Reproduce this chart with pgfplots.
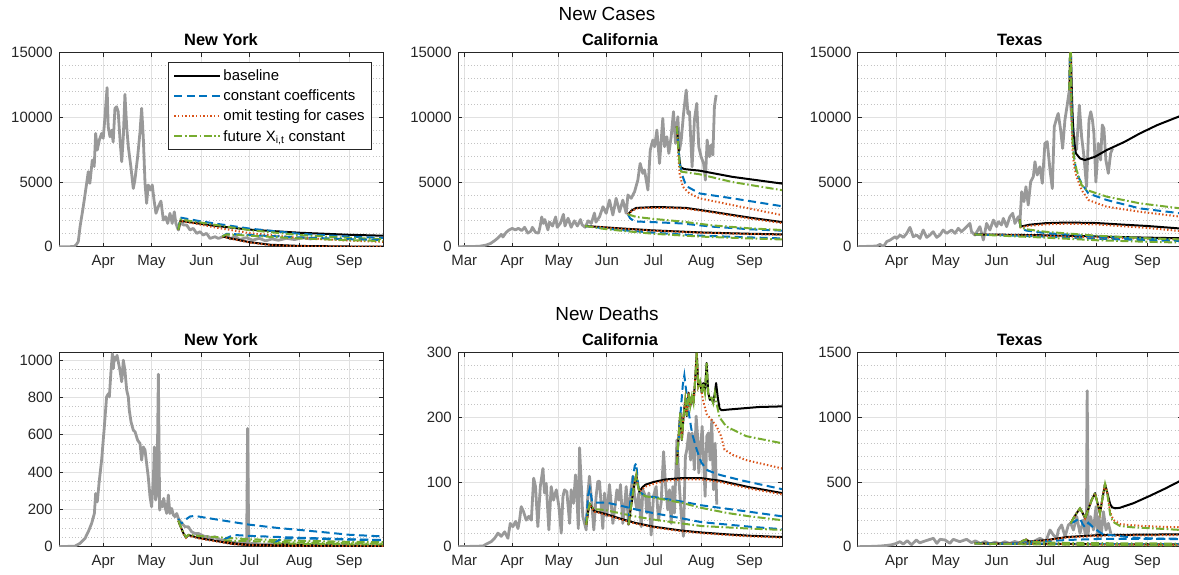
\documentclass[border=0pt]{standalone}
\usepackage{pgfplots}
\pgfplotsset{compat=1.18}
\usepackage{fontspec}
\setmainfont{Liberation Sans}
\definecolor{obsgray}{RGB}{153,153,153}
\definecolor{mblue}{RGB}{0,114,189}
\definecolor{morange}{RGB}{217,83,25}
\definecolor{mgreen}{RGB}{119,172,48}
\definecolor{axc}{RGB}{38,38,38}
\definecolor{gridc}{RGB}{225,225,225}
\definecolor{mgridc}{RGB}{195,195,195}
\pgfplotsset{
  legend image code/.code={\draw[#1] (0bp,0bp) -- (46bp,0bp);},
  panel/.style={scale only axis, width=324bp, height=194bp, anchor=south west,
    axis line style={color=axc, line width=0.7bp},
    tick style={color=axc, line width=0.7bp}, tick align=inside,
    major tick length=4bp, minor tick length=0bp,
    grid=both, major grid style={color=gridc, line width=0.8bp},
    minor grid style={color=mgridc, line width=0.7bp, dash pattern=on 0.8bp off 2.4bp},
    tick label style={font=\fontsize{15}{18}\selectfont, color=axc},
    yticklabel style={inner xsep=0pt, xshift=-6bp},
    xticklabel style={inner ysep=0pt, yshift=-8bp},
    title style={font=\bfseries\fontsize{16.5}{20}\selectfont, at={(0.5,1)}, anchor=base, yshift=1.6bp},
    scaled y ticks=false, /pgf/number format/1000 sep={}, /pgf/number format/assume math mode=true,
    xmax=205, ymin=0, clip=true, enlargelimits=false,
  },
  mon/.style={xtick={31,61,92,122,153,184}, xticklabels={Apr,May,Jun,Jul,Aug,Sep}},
  monm/.style={xtick={0,31,61,92,122,153,184}, xticklabels={Mar,Apr,May,Jun,Jul,Aug,Sep}},
  cases/.style={ymax=15000, ytick={0,5000,10000,15000}, minor y tick num=4},
  obs/.style={color=obsgray, line width=2.8bp, line join=round, forget plot},
  bl/.style={color=black, line width=2bp, line join=round},
  cc/.style={color=mblue, line width=2bp, dash pattern=on 8bp off 4.5bp},
  om/.style={color=morange, line width=2bp, dash pattern=on 1.4bp off 2.2bp},
  fx/.style={color=mgreen, line width=2bp, dash pattern=on 8bp off 2.5bp on 1.6bp off 2.5bp},
  blf/.style={bl, forget plot}, ccf/.style={cc, forget plot}, omf/.style={om, forget plot}, fxf/.style={fx, forget plot},
}
\begin{document}
\begin{tikzpicture}
\useasboundingbox (0bp,0bp) rectangle (1179bp,575bp);
\node[anchor=base, font=\fontsize{19}{22}\selectfont] at (607bp,554.3bp) {New Cases};
\node[anchor=base, font=\fontsize{19}{22}\selectfont] at (607bp,254.3bp) {New Deaths};

% ---------------- NY cases
\begin{axis}[panel, mon, cases, at={(59bp,328.3bp)}, xmin=3.5, title={New York},
  legend style={at={(0.966,0.952)}, anchor=north east, draw=axc, line width=0.7bp, fill=white,
    font=\fontsize{15}{17}\selectfont, inner xsep=5bp, inner ysep=5bp, row sep=4bp, cells={anchor=west}}]
\addplot[obs] coordinates {(3.5,0)(10,0)(13,20)(14.5,200)(15.5,400)(16.6,1550)(18.6,3100)(20.7,4900)(21.7,5800)(22.7,4900)(24.2,6700)(25.4,6200)(26.3,8760)(27.3,7470)(28.6,8250)(30,8760)(31,8380)(32.1,10050)(33.4,12300)(34.1,9280)(35.2,8500)(36.2,9000)(37.2,8100)(38.3,10700)(39.3,10820)(40.3,10440)(41.6,8000)(42.5,6570)(43.5,8500)(44.5,11780)(45.6,9280)(46.6,7730)(48.2,6180)(49.7,4500)(50.7,5150)(52.4,6950)(53.8,8760)(54.9,10700)(55.9,8500)(57,4900)(58,3350)(59,4770)(60.5,4380)(61.5,4770)(62.6,3600)(63.8,2580)(65.3,3100)(66.9,3530)(68.4,2060)(69.8,2320)(71.1,1800)(72.5,2580)(73.9,1800)(75.2,2700)(76.2,1800)(77.7,1290)(79.4,2060)(80.8,1675)(82.9,1675)(85,1290)(87,1420)(89.1,1030)(91.2,1160)(93.2,900)(95.3,1030)(97.4,640)(100.5,770)(102.6,640)(105,750)(108,900)(110,600)(113,800)(116,550)(120,700)(124,500)(128,650)(132,450)(136,600)(140,500)(145,650)(150,550)(155,700)(160,600)(162,650)};
\addplot[bl] coordinates {(77.7,1300)(79,2000)(90,1800)(100,1620)(122,1320)(153,1080)(184,920)(205,850)};
\addlegendentry{baseline}
\addplot[cc] coordinates {(77.7,1300)(79,2250)(90,2000)(100,1800)(122,1400)(153,1000)(184,780)(205,680)};
\addlegendentry{constant coefficents}
\addplot[om] coordinates {(77.7,1300)(79,2000)(90,1750)(100,1500)(122,1050)(153,680)(184,470)(205,380)};
\addlegendentry{omit testing for cases}
\addplot[fx] coordinates {(77.7,1300)(79,2100)(90,1900)(100,1700)(122,1280)(153,900)(184,680)(205,580)};
\addlegendentry{future X\textsubscript{i,t} constant}
\addplot[blf] coordinates {(105,800)(110,650)(122,350)(135,150)(153,60)(184,15)(205,8)};
\addplot[ccf] coordinates {(105,800)(108,1000)(122,900)(153,720)(184,580)(205,520)};
\addplot[omf] coordinates {(105,800)(110,630)(122,320)(135,120)(153,40)(184,10)(205,5)};
\addplot[fxf] coordinates {(105,800)(108,950)(122,850)(153,640)(184,500)(205,440)};
\end{axis}

% ---------------- CA cases
\begin{axis}[panel, monm, cases, at={(458bp,328.3bp)}, xmin=-4, title={California}]
\addplot[obs] coordinates {(-4,0)(5,10)(10,40)(14,120)(17,250)(20,500)(22,700)(24,950)(25,750)(27,1100)(29,1300)(31,1420)(33,1300)(35,1420)(37,1250)(39,1500)(41,1050)(43,1200)(44,1500)(46,1100)(48,1050)(49,1600)(50,2300)(51,1800)(52,2100)(54,1300)(55,1900)(57,1600)(59,2300)(60,1500)(62,1800)(64,2500)(65,1600)(67,2200)(69,1500)(71,2000)(73,1600)(75,2100)(76,1700)(78,1500)(80,2000)(82,1800)(84,2600)(85,1900)(87.3,2320)(89.5,3090)(91.6,2580)(93.7,3600)(95.9,2450)(98,3740)(100.2,2700)(102.3,3600)(104.5,2580)(105.6,4000)(107.7,3740)(109.9,4250)(112,5150)(113.5,6440)(115.2,5670)(116.3,5930)(118.5,4380)(120,7470)(121.7,8250)(122.8,7730)(124.3,9020)(126,6440)(128.1,9920)(129.2,7730)(130.7,8500)(132,7215)(133.5,8500)(135,10440)(136.3,7990)(137.8,10050)(138.9,7470)(140,8250)(141.5,10300)(143.2,12110)(144.3,10300)(145.3,10440)(147,6180)(148.5,9800)(150,11080)(151.3,7730)(152.8,6960)(154.4,6440)(155.6,5150)(156.7,8250)(158.2,6960)(159.3,7860)(160.4,7090)(161.4,10820)(162.5,11725)};
\addplot[blf] coordinates {(78,1600)(90,1500)(100,1420)(122,1260)(153,1100)(184,1000)(205,950)};
\addplot[ccf] coordinates {(78,1600)(90,1420)(100,1300)(122,1080)(153,850)(184,720)(205,640)};
\addplot[omf] coordinates {(78,1600)(90,1490)(100,1400)(122,1240)(153,1080)(184,980)(205,920)};
\addplot[fxf] coordinates {(78,1600)(90,1380)(100,1250)(122,1000)(153,780)(184,640)(205,560)};
\addplot[blf] coordinates {(105.6,2500)(108,2800)(111,3000)(120,3050)(130,3050)(143,3000)(160,2700)(184,2250)(205,1900)};
\addplot[ccf] coordinates {(105.6,2500)(107,2200)(110,1950)(122,1900)(140,1800)(160,1550)(184,1350)(205,1240)};
\addplot[omf] coordinates {(105.6,2500)(108,2750)(111,2950)(120,3000)(130,3000)(143,2950)(160,2650)(184,2180)(205,1830)};
\addplot[fxf] coordinates {(105.6,2500)(107,2450)(111,2300)(122,2150)(140,1950)(160,1650)(184,1420)(205,1290)};
\addplot[blf] coordinates {(137.2,9300)(138,8000)(138.8,6800)(139.5,6150)(142,6000)(151.8,5880)(173,5400)(205,4880)};
\addplot[ccf] coordinates {(137.2,9300)(138.2,7800)(138.9,6440)(141,5410)(143.2,4690)(151.8,4120)(173,3740)(205,3130)};
\addplot[omf] coordinates {(137.2,9300)(138.2,7000)(138.9,5670)(141,4640)(145.3,4120)(151.8,3740)(173,3220)(205,2440)};
\addplot[fxf] coordinates {(137.2,9300)(138.2,7500)(139,6300)(140,5800)(151.8,5600)(173,5000)(205,4370)};
\end{axis}

% ---------------- TX cases
\begin{axis}[panel, mon, cases, at={(857.7bp,328.3bp)}, xmin=7.2, title={Texas}]
\addplot[obs] coordinates {(7.2,0)(18.8,50)(20.8,180)(22.9,0)(24.9,390)(27,515)(30,770)(31,640)(33,900)(35.1,720)(37.1,1030)(39.1,1495)(41.1,770)(43.2,900)(45.2,640)(47.2,1290)(49.3,720)(51.3,900)(53.3,1160)(55.4,720)(57.4,900)(59.4,1290)(61.5,1030)(64.5,1290)(66.6,1030)(68.6,1420)(70.6,1160)(73.7,1550)(75.7,1800)(76.7,1160)(78.8,900)(81.8,1550)(83.9,515)(85.9,1800)(87.9,1290)(90,2060)(92,1550)(93,1930)(95,1680)(96.1,2190)(98.1,1550)(100.1,2320)(101.8,2580)(103.2,1800)(105.2,2320)(106.2,1800)(107.3,4250)(108.7,3480)(109.9,4640)(111.3,3220)(112.8,5025)(114.4,5410)(115.4,6570)(116.8,5540)(118.4,6180)(119.9,4900)(121.5,7990)(122.9,8120)(124.6,5930)(126,4500)(127.2,9280)(128.6,9920)(129.6,10300)(131.1,9020)(132.3,7600)(133.7,9800)(135.1,10950)(136.4,12110)(138.8,8760)(140.8,7500)(142.5,10950)(143.9,8500)(145.3,7000)(146.9,4640)(148.4,9800)(149.5,10440)(150.5,9800)(151.4,8760)(152.6,5000)(154.1,7990)(155.5,6700)(156.5,9410)(157.5,9150)(158.7,6700)(160.2,5670)(161.6,7215)(162.8,7600)};
\addplot[blf] coordinates {(78.5,950)(100,920)(122,880)(153,790)(184,700)(205,650)};
\addplot[ccf] coordinates {(78.5,950)(100,870)(122,780)(153,620)(184,500)(205,440)};
\addplot[omf] coordinates {(78.5,950)(100,900)(122,850)(153,720)(184,620)(205,560)};
\addplot[fxf] coordinates {(78.5,950)(100,820)(122,700)(153,500)(184,380)(205,320)};
\addplot[blf] coordinates {(106.2,2100)(106.6,1550)(112,1700)(122,1820)(135,1870)(153,1830)(170,1700)(184,1600)(205,1400)};
\addplot[ccf] coordinates {(106.2,2100)(106.6,1450)(110,1250)(122,1050)(153,780)(184,600)(205,500)};
\addplot[omf] coordinates {(106.2,2100)(106.6,1500)(112,1620)(122,1720)(135,1780)(153,1720)(184,1450)(205,1200)};
\addplot[fxf] coordinates {(106.2,2100)(106.6,1500)(110,1350)(122,1150)(153,850)(184,650)(205,560)};
\addplot[blf] coordinates {(136.4,12110)(137.1,16500)(137.8,12600)(138.4,10050)(139.2,8250)(140.4,7215)(142.9,6830)(145.9,6700)(152,6950)(159.2,7470)(170,8100)(179.5,8760)(190,9400)(205,10150)};
\addplot[ccf] coordinates {(136.4,12110)(137.1,16500)(137.8,10500)(138.4,8500)(139.2,7000)(140.8,5670)(143.9,4900)(148,4120)(159.2,3610)(179.5,2960)(205,2570)};
\addplot[omf] coordinates {(136.4,12110)(137.1,16500)(137.8,9500)(138.4,7500)(139.2,6300)(140.8,5410)(143.9,4380)(148,3610)(159.2,3090)(179.5,2700)(205,2310)};
\addplot[fxf] coordinates {(136.4,12110)(137.1,16500)(137.8,10000)(138.4,8000)(139.2,6960)(140.8,5930)(143.9,4770)(147,4380)(159.2,3870)(179.5,3350)(205,2950)};
\end{axis}

% ---------------- NY deaths
\begin{axis}[panel, mon, at={(59bp,28.3bp)}, xmin=3.5, ymax=1040, ytick={0,200,400,600,800,1000}, minor y tick num=3, title={New York}]
\addplot[obs] coordinates {(3.5,0)(13.4,3)(16.6,18)(19.7,45)(21.7,80)(23.8,125)(25.5,178)(26.3,285)(27.3,240)(28.4,340)(30,464)(31.7,643)(33.1,803)(34.2,820)(34.8,803)(35.8,937)(36.7,1035)(37.3,955)(37.9,1017)(38.7,1000)(39.6,1026)(40.4,990)(41.4,946)(42.5,884)(43.5,1000)(44.5,946)(45.6,839)(46.6,803)(47.2,732)(48.3,669)(49.7,625)(50.8,616)(52.4,571)(53.9,553)(54.9,464)(55.9,535)(57,518)(58,446)(59,375)(60.1,268)(61.1,214)(62.2,366)(62.8,535)(63.6,250)(64.4,285)(65.3,925)(66.1,196)(66.9,241)(67.8,214)(68.6,259)(69.4,214)(70.5,178)(71.5,277)(72.5,178)(73.6,205)(74.6,170)(75.6,161)(76.7,178)(77.7,152)(79.8,125)(81.9,107)(83.9,107)(86,80)(88.1,71)(90.2,71)(92.2,62)(94.3,54)(96.4,54)(98.4,45)(100.5,54)(102.6,39)(104.7,36)(108.8,27)(113,21)(117.1,18)(120.2,18)(120.8,634)(121.5,15)(125,18)(130,12)(135,15)(140,10)(145,12)(150,8)(155,10)(160,8)(162,9)};
\addplot[blf] coordinates {(77.7,140)(79,110)(81,70)(82.5,50)(84,62)(86,58)(90,48)(95,40)(100,33)(105,25)(112,15)(122,9)(140,5)(170,3)(205,2)};
\addplot[ccf] coordinates {(77.7,150)(79,125)(81,130)(83,150)(85,162)(88,165)(95,155)(100,148)(122,118)(140,100)(153,90)(170,76)(184,64)(205,55)};
\addplot[omf] coordinates {(77.7,140)(79,108)(81,68)(82.5,48)(84,60)(86,55)(90,45)(100,30)(112,13)(122,8)(150,4)(205,2)};
\addplot[fxf] coordinates {(77.7,140)(79,112)(81,72)(82.5,52)(84,64)(86,62)(90,58)(100,52)(112,45)(122,40)(153,32)(184,26)(205,24)};
\addplot[blf] coordinates {(106,30)(112,18)(122,10)(153,5)(205,3)};
\addplot[ccf] coordinates {(106,38)(110,55)(114,62)(122,58)(153,48)(184,40)(205,36)};
\addplot[omf] coordinates {(106,30)(112,16)(122,9)(153,4)(205,2)};
\addplot[fxf] coordinates {(106,35)(112,32)(122,30)(153,22)(184,18)(205,16)};
\addplot[blf] coordinates {(137,14)(153,8)(205,4)};
\addplot[ccf] coordinates {(137,15)(140,35)(143,45)(153,45)(184,38)(205,35)};
\addplot[omf] coordinates {(137,14)(153,7)(205,3)};
\addplot[fxf] coordinates {(137,18)(153,16)(184,13)(205,12)};
\end{axis}

% ---------------- CA deaths
\begin{axis}[panel, monm, at={(458bp,28.3bp)}, xmin=-4, ymax=300, ytick={0,100,200,300}, minor y tick num=4, title={California}]
\addplot[obs] coordinates {(-4,0)(12.1,1)(14.2,4)(17.5,8)(19.6,13)(21.8,21)(23.9,16)(26.1,23)(28.2,13)(29.7,36)(31.4,31)(33.1,39)(34.7,28)(35.7,41)(36.8,62)(38.3,54)(40,41)(41.7,47)(43.3,41)(44.8,106)(46,93)(47.5,31)(49.1,93)(50.8,121)(51.8,83)(52.9,98)(54.6,26)(56.1,93)(57.6,72)(59.4,88)(61.1,62)(62.6,21)(63.7,78)(64.7,88)(66.2,85)(68,36)(69,88)(70.5,67)(71.8,111)(72.7,78)(73.6,28)(74.4,153)(76.5,47)(78.7,26)(79.8,83)(80.8,109)(82.3,67)(83.6,26)(85.1,78)(86.2,101)(87.3,101)(88.4,62)(89.4,28)(90.5,83)(92,47)(93.7,96)(94.8,67)(95.9,36)(97,57)(98.5,88)(99.8,72)(100.8,96)(102.3,36)(103.4,62)(104.5,93)(106,34)(107.1,78)(108.8,109)(109.9,78)(111.4,57)(112.6,83)(114.2,31)(115.2,88)(117,78)(117.8,52)(119.1,83)(120.6,18)(122.1,78)(123.8,93)(125.3,41)(127,67)(128.6,147)(129.8,98)(131.3,57)(132.4,88)(133.5,36)(134.6,93)(135.6,52)(137.2,165)(138.4,109)(139.9,52)(141.4,16)(142.7,140)(143.6,150)(144.9,176)(146,134)(147,176)(148.5,119)(149.6,202)(150.7,165)(151.3,114)(152.4,150)(153.5,186)(154.6,124)(155.4,78)(156.5,171)(157.6,176)(158.6,134)(159.7,196)(160.8,88)(161.9,160)(162.9,65)};
\addplot[blf] coordinates {(78.7,34)(80,55)(81,66)(82.5,60)(84,55)(86,54)(92,50)(100,44)(110,37)(122,31)(140,25)(153,22)(170,19)(184,17)(205,15)};
\addplot[ccf] coordinates {(78.7,40)(80,80)(81,90)(82.5,70)(85,68)(92,68)(100,64)(110,58)(122,52)(140,44)(153,38)(184,31)(205,27)};
\addplot[omf] coordinates {(78.7,34)(80,54)(81,65)(82.5,59)(84,54)(86,53)(92,49)(100,43)(110,36)(122,30)(140,24)(153,21)(170,18)(184,16)(205,14)};
\addplot[fxf] coordinates {(78.7,34)(80,56)(81,66)(82.5,61)(84,58)(90,57)(100,52)(110,47)(122,42)(140,36)(153,32)(184,28)(205,26)};
\addplot[blf] coordinates {(106,34)(107.5,60)(109,85)(110,100)(111,111)(112,95)(113,85)(115,92)(117,96)(122,100)(130,104)(140,106)(153,106)(165,102)(184,92)(205,83)};
\addplot[ccf] coordinates {(106,40)(107.5,80)(109,110)(110,125)(111,129)(112,100)(113,85)(117,78)(122,77)(140,70)(153,64)(184,54)(205,47)};
\addplot[omf] coordinates {(106,34)(107.5,60)(109,85)(110,100)(111,111)(112,95)(113,85)(115,89)(117,93)(122,97)(130,102)(140,104)(153,104)(165,100)(184,90)(205,81)};
\addplot[fxf] coordinates {(106,34)(107.5,60)(109,85)(110,100)(111,111)(112,95)(113,83)(117,78)(122,76)(140,68)(153,60)(170,52)(184,47)(205,41)};
\addplot[blf] coordinates {(137.2,127)(138.3,171)(139.4,207)(140.4,165)(141.5,202)(142.6,227)(143.6,202)(144.7,238)(145.8,217)(146.9,233)(147.9,222)(149,258)(150,300)(151,248)(152.1,256)(153.2,238)(154.2,253)(155.3,238)(156.4,284)(157.4,238)(158.5,227)(159.6,230)(160.6,222)(161.7,238)(162.5,253)(163.6,230)(164.7,214)(166,211)(170,212)(180,214)(190,216)(205,217)};
\addplot[ccf] coordinates {(137.2,127)(139,190)(141,250)(142,265)(143.5,235)(145,205)(147,175)(150,150)(153,130)(157,118)(165,111)(180,102)(205,89)};
\addplot[omf] coordinates {(137.2,127)(138.3,171)(139.4,207)(140.4,165)(141.5,202)(142.6,227)(143.6,202)(144.7,238)(145.8,217)(146.9,233)(147.9,222)(149,258)(150,300)(151,248)(152.1,256)(153.2,238)(154.2,225)(156.4,205)(159.6,196)(162.8,186)(165.7,171)(167.9,150)(173.3,142)(181.8,134)(205,121)};
\addplot[fxf] coordinates {(137.2,127)(138.3,171)(139.4,207)(140.4,165)(141.5,202)(142.6,227)(143.6,202)(144.7,238)(145.8,217)(146.9,233)(147.9,222)(149,258)(150,300)(151,248)(152.1,256)(153.2,238)(154.2,253)(155.3,238)(156.4,284)(157.4,238)(158.5,227)(159.6,230)(160.6,222)(161.7,238)(162.5,225)(164.7,200)(169,186)(181.8,171)(205,160)};
\end{axis}

% ---------------- TX deaths
\begin{axis}[panel, mon, at={(857.7bp,28.3bp)}, xmin=7.2, ymax=1500, ytick={0,500,1000,1500}, minor y tick num=4, title={Texas}]
\addplot[obs] coordinates {(7.2,0)(15,2)(20.8,5)(25,10)(28,15)(31,26)(33,39)(35,20)(37.5,47)(40,15)(43,52)(45,30)(49,47)(53.4,65)(55.5,26)(57.5,57)(60.5,52)(63.5,26)(65.5,57)(69.5,39)(73.7,57)(76.7,31)(79,45)(82,25)(85,40)(88,20)(91,35)(94,22)(97,38)(100,25)(103,40)(106,30)(109,45)(112,25)(114.4,39)(118.5,65)(122,39)(124.6,129)(126.7,90)(128.7,65)(129.7,129)(131.7,168)(133.8,78)(135.8,168)(137.2,181)(138.9,129)(140.9,233)(142.9,103)(145,207)(146,100)(146.8,80)(147.3,1206)(147.9,100)(148.2,140)(149.4,233)(151.1,129)(152.7,310)(153.7,70)(154.5,233)(155.8,78)(157.2,271)(158.8,129)(160.2,181)(161.7,103)};
\addplot[blf] coordinates {(78.5,25)(100,24)(122,22)(153,20)(184,18)(205,17)};
\addplot[ccf] coordinates {(78.5,25)(100,24)(122,23)(153,21)(184,20)(205,19)};
\addplot[omf] coordinates {(78.5,25)(100,23)(122,20)(153,17)(184,15)(205,14)};
\addplot[fxf] coordinates {(78.5,25)(100,20)(122,17)(153,13)(184,11)(205,10)};
\addplot[blf] coordinates {(106,30)(108,45)(110,55)(112,40)(122,50)(135,75)(155,90)(205,96)};
\addplot[ccf] coordinates {(106,30)(108,40)(110,50)(112,38)(122,42)(135,52)(155,60)(205,62)};
\addplot[omf] coordinates {(106,30)(108,45)(110,55)(112,40)(122,48)(135,72)(155,85)(205,90)};
\addplot[fxf] coordinates {(106,30)(108,45)(110,55)(112,38)(122,33)(135,30)(155,27)(205,24)};
\addplot[blf] coordinates {(137.2,181)(138.9,220)(140.9,260)(142.9,297)(144.5,260)(146,220)(148,290)(150,360)(152.1,414)(153.7,330)(155.1,258)(156.7,380)(158.2,486)(159.5,420)(161.3,330)(162.5,305)(164.3,297)(167,300)(175.5,336)(185,390)(195,450)(205,515)};
\addplot[ccf] coordinates {(137.2,181)(138.9,190)(140.9,205)(142.9,220)(144.5,175)(146,150)(148,185)(150,160)(152,140)(154,120)(157,95)(161.3,90)(175.5,70)(190,62)(205,57)};
\addplot[omf] coordinates {(137.2,181)(138.9,220)(140.9,260)(142.9,297)(144.5,260)(146,220)(148,290)(150,360)(152.1,414)(153.7,330)(155.1,258)(156.7,380)(158.2,486)(159.5,420)(161.3,270)(162.5,230)(164,200)(167.4,175)(175,165)(190,155)(205,150)};
\addplot[fxf] coordinates {(137.2,181)(138.9,220)(140.9,260)(142.9,297)(144.5,260)(146,220)(148,290)(150,360)(152.1,414)(153.7,330)(155.1,258)(156.7,380)(158.2,486)(159.5,420)(161.3,250)(162.5,210)(164,185)(167.4,160)(175,150)(190,140)(205,129)};
\end{axis}
\end{tikzpicture}
\end{document}
